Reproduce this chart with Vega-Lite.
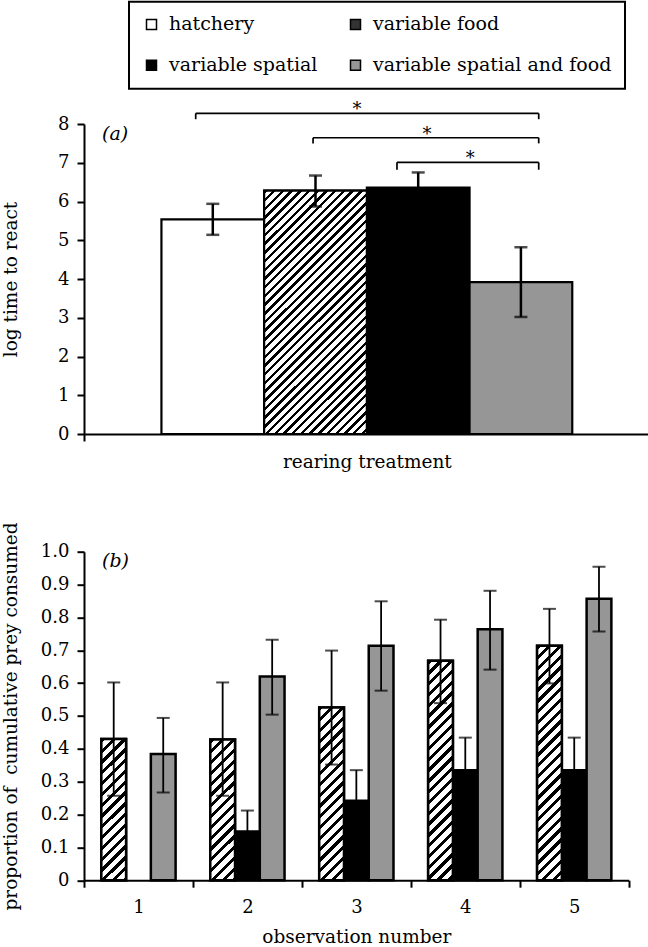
{
"$schema": "https://vega.github.io/schema/vega-lite/v6.json",
"padding": 0,
"bounds": "flush",
"spacing": 117.7,
"params": [
{"name": "ls", "value": [{"offset": 0, "color": "#000"}, {"offset": 0.32, "color": "#000"}, {"offset": 0.32, "color": "#fff"}, {"offset": 0.68, "color": "#fff"}, {"offset": 0.68, "color": "#000"}, {"offset": 1, "color": "#000"}]},
{"name": "hs", "value": [
{"offset":0,"color":"#000"},{"offset":0.01,"color":"#000"},{"offset":0.01,"color":"#fff"},{"offset":0.025,"color":"#fff"},
{"offset":0.025,"color":"#000"},{"offset":0.035,"color":"#000"},{"offset":0.035,"color":"#fff"},{"offset":0.05,"color":"#fff"},
{"offset":0.05,"color":"#000"},{"offset":0.06,"color":"#000"},{"offset":0.06,"color":"#fff"},{"offset":0.075,"color":"#fff"},
{"offset":0.075,"color":"#000"},{"offset":0.085,"color":"#000"},{"offset":0.085,"color":"#fff"},{"offset":0.1,"color":"#fff"},
{"offset":0.1,"color":"#000"},{"offset":0.11,"color":"#000"},{"offset":0.11,"color":"#fff"},{"offset":0.125,"color":"#fff"},
{"offset":0.125,"color":"#000"},{"offset":0.135,"color":"#000"},{"offset":0.135,"color":"#fff"},{"offset":0.15,"color":"#fff"},
{"offset":0.15,"color":"#000"},{"offset":0.16,"color":"#000"},{"offset":0.16,"color":"#fff"},{"offset":0.175,"color":"#fff"},
{"offset":0.175,"color":"#000"},{"offset":0.185,"color":"#000"},{"offset":0.185,"color":"#fff"},{"offset":0.2,"color":"#fff"},
{"offset":0.2,"color":"#000"},{"offset":0.21,"color":"#000"},{"offset":0.21,"color":"#fff"},{"offset":0.225,"color":"#fff"},
{"offset":0.225,"color":"#000"},{"offset":0.235,"color":"#000"},{"offset":0.235,"color":"#fff"},{"offset":0.25,"color":"#fff"},
{"offset":0.25,"color":"#000"},{"offset":0.26,"color":"#000"},{"offset":0.26,"color":"#fff"},{"offset":0.275,"color":"#fff"},
{"offset":0.275,"color":"#000"},{"offset":0.285,"color":"#000"},{"offset":0.285,"color":"#fff"},{"offset":0.3,"color":"#fff"},
{"offset":0.3,"color":"#000"},{"offset":0.31,"color":"#000"},{"offset":0.31,"color":"#fff"},{"offset":0.325,"color":"#fff"},
{"offset":0.325,"color":"#000"},{"offset":0.335,"color":"#000"},{"offset":0.335,"color":"#fff"},{"offset":0.35,"color":"#fff"},
{"offset":0.35,"color":"#000"},{"offset":0.36,"color":"#000"},{"offset":0.36,"color":"#fff"},{"offset":0.375,"color":"#fff"},
{"offset":0.375,"color":"#000"},{"offset":0.385,"color":"#000"},{"offset":0.385,"color":"#fff"},{"offset":0.4,"color":"#fff"},
{"offset":0.4,"color":"#000"},{"offset":0.41,"color":"#000"},{"offset":0.41,"color":"#fff"},{"offset":0.425,"color":"#fff"},
{"offset":0.425,"color":"#000"},{"offset":0.435,"color":"#000"},{"offset":0.435,"color":"#fff"},{"offset":0.45,"color":"#fff"},
{"offset":0.45,"color":"#000"},{"offset":0.46,"color":"#000"},{"offset":0.46,"color":"#fff"},{"offset":0.475,"color":"#fff"},
{"offset":0.475,"color":"#000"},{"offset":0.485,"color":"#000"},{"offset":0.485,"color":"#fff"},{"offset":0.5,"color":"#fff"},
{"offset":0.5,"color":"#000"},{"offset":0.51,"color":"#000"},{"offset":0.51,"color":"#fff"},{"offset":0.525,"color":"#fff"},
{"offset":0.525,"color":"#000"},{"offset":0.535,"color":"#000"},{"offset":0.535,"color":"#fff"},{"offset":0.55,"color":"#fff"},
{"offset":0.55,"color":"#000"},{"offset":0.56,"color":"#000"},{"offset":0.56,"color":"#fff"},{"offset":0.575,"color":"#fff"},
{"offset":0.575,"color":"#000"},{"offset":0.585,"color":"#000"},{"offset":0.585,"color":"#fff"},{"offset":0.6,"color":"#fff"},
{"offset":0.6,"color":"#000"},{"offset":0.61,"color":"#000"},{"offset":0.61,"color":"#fff"},{"offset":0.625,"color":"#fff"},
{"offset":0.625,"color":"#000"},{"offset":0.635,"color":"#000"},{"offset":0.635,"color":"#fff"},{"offset":0.65,"color":"#fff"},
{"offset":0.65,"color":"#000"},{"offset":0.66,"color":"#000"},{"offset":0.66,"color":"#fff"},{"offset":0.675,"color":"#fff"},
{"offset":0.675,"color":"#000"},{"offset":0.685,"color":"#000"},{"offset":0.685,"color":"#fff"},{"offset":0.7,"color":"#fff"},
{"offset":0.7,"color":"#000"},{"offset":0.71,"color":"#000"},{"offset":0.71,"color":"#fff"},{"offset":0.725,"color":"#fff"},
{"offset":0.725,"color":"#000"},{"offset":0.735,"color":"#000"},{"offset":0.735,"color":"#fff"},{"offset":0.75,"color":"#fff"},
{"offset":0.75,"color":"#000"},{"offset":0.76,"color":"#000"},{"offset":0.76,"color":"#fff"},{"offset":0.775,"color":"#fff"},
{"offset":0.775,"color":"#000"},{"offset":0.785,"color":"#000"},{"offset":0.785,"color":"#fff"},{"offset":0.8,"color":"#fff"},
{"offset":0.8,"color":"#000"},{"offset":0.81,"color":"#000"},{"offset":0.81,"color":"#fff"},{"offset":0.825,"color":"#fff"},
{"offset":0.825,"color":"#000"},{"offset":0.835,"color":"#000"},{"offset":0.835,"color":"#fff"},{"offset":0.85,"color":"#fff"},
{"offset":0.85,"color":"#000"},{"offset":0.86,"color":"#000"},{"offset":0.86,"color":"#fff"},{"offset":0.875,"color":"#fff"},
{"offset":0.875,"color":"#000"},{"offset":0.885,"color":"#000"},{"offset":0.885,"color":"#fff"},{"offset":0.9,"color":"#fff"},
{"offset":0.9,"color":"#000"},{"offset":0.91,"color":"#000"},{"offset":0.91,"color":"#fff"},{"offset":0.925,"color":"#fff"},
{"offset":0.925,"color":"#000"},{"offset":0.935,"color":"#000"},{"offset":0.935,"color":"#fff"},{"offset":0.95,"color":"#fff"},
{"offset":0.95,"color":"#000"},{"offset":0.96,"color":"#000"},{"offset":0.96,"color":"#fff"},{"offset":0.975,"color":"#fff"},
{"offset":0.975,"color":"#000"},{"offset":0.985,"color":"#000"},{"offset":0.985,"color":"#fff"},{"offset":1,"color":"#fff"}
]}],
"config": {
 "font": "DejaVu Serif",
 "view": {"stroke": null},
 "axis": {"domainColor": "black", "domainWidth": 2, "tickColor": "black", "tickWidth": 2, "tickSize": 7, "labelColor": "black", "labelFont": "DejaVu Serif", "labelFontSize": 18, "labelOverlap": false, "titleColor": "black", "titleFont": "DejaVu Serif", "titleFontSize": 18.5, "titleFontWeight": "normal", "grid": false},
 "legend": {"padding": 13, "rowPadding": 21, "columnPadding": 28, "gridAlign": "each", "strokeColor": "black", "strokeWidth": 2, "fillColor": "white", "symbolType": "square", "symbolSize": 100, "symbolStrokeColor": "black", "symbolStrokeWidth": 1.5, "labelFont": "DejaVu Serif", "labelFontSize": 19, "labelColor": "black", "labelLimit": 0, "labelOffset": 8, "symbolOpacity": 1},
 "text": {"font": "DejaVu Serif", "color": "black"}
},
"resolve": {"scale": {"x": "independent", "y": "independent", "xOffset": "independent", "fill": "shared"}, "axis": {"x": "independent", "y": "independent"}, "legend": {"fill": "shared"}},
"vconcat": [
 {
  "width": 565.7, "height": 310,
  "layer": [
   {
    "data": {"values": [
     {"treatment": "rearing treatment", "group": "hatchery", "value": 5.54, "lo": 5.14, "hi": 5.94},
     {"treatment": "rearing treatment", "group": "variable food", "value": 6.28, "lo": 5.87, "hi": 6.67},
     {"treatment": "rearing treatment", "group": "variable spatial", "value": 6.36, "lo": 5.97, "hi": 6.75},
     {"treatment": "rearing treatment", "group": "variable spatial and food", "value": 3.92, "lo": 3.02, "hi": 4.82}
    ]},
    "layer": [
     {"mark": {"type": "bar", "stroke": "black", "strokeWidth": 2.2},
      "encoding": {
       "x": {"field": "treatment", "type": "nominal", "title": "rearing treatment", "scale": {"type": "band", "paddingInner": 0, "paddingOuter": 0}, "axis": {"labels": false, "tickBand": "extent", "titleY": 33.7, "titleBaseline": "alphabetic"}},
       "xOffset": {"field": "group", "type": "nominal", "scale": {"domain": ["hatchery", "variable food", "variable spatial", "variable spatial and food"], "paddingInner": 0, "paddingOuter": 0.754}},
       "y": {"field": "value", "type": "quantitative", "title": "log time to react", "scale": {"domain": [0, 8]}, "axis": {"values": [0, 1, 2, 3, 4, 5, 6, 7, 8], "titleX": -74, "titleY": 155, "titleBaseline": "middle", "labelPadding": 8}},
       "fill": {"field": "group", "type": "nominal",
        "scale": {"domain": ["hatchery", "variable food", "variable spatial", "variable spatial and food"], "range": ["white", "#333333", "black", "#969696"]},
        "legend": {"title": null, "orient": "none", "legendX": 45, "legendY": -122.3, "direction": "horizontal", "columns": 2,
          "encode": {"symbols": {"update": {
            "fill": {"signal": "datum.value === 'variable food' ? {gradient: 'linear', x1: 0, y1: 0, x2: 1, y2: 1, stops: ls} : scale('fill', datum.value)"},
            "stroke": {"value": "black"}, "strokeWidth": {"value": 1.5}, "opacity": {"value": 1}}}}}}
      }},
     {"transform": [{"filter": "datum.group === 'variable food'"}],
      "mark": {"type": "bar", "stroke": "black", "strokeWidth": 2.2, "fill": {"expr": "{gradient: 'linear', x1: 0, y1: 0, x2: 0.512, y2: 1.214, stops: hs}"}},
      "encoding": {
       "x": {"field": "treatment", "type": "nominal", "title": "rearing treatment", "axis": {"labels": false, "tickBand": "extent", "titleY": 33.7, "titleBaseline": "alphabetic"}},
       "xOffset": {"field": "group", "type": "nominal"},
       "y": {"field": "value", "type": "quantitative", "title": "log time to react", "axis": {"values": [0, 1, 2, 3, 4, 5, 6, 7, 8], "titleX": -74, "titleY": 155, "titleBaseline": "middle", "labelPadding": 8}}
      }},
     {"mark": {"type": "rule", "color": "black", "strokeWidth": 2.5},
      "encoding": {
       "x": {"field": "treatment", "type": "nominal", "title": "rearing treatment", "axis": {"labels": false, "tickBand": "extent", "titleY": 33.7, "titleBaseline": "alphabetic"}},
       "xOffset": {"field": "group", "type": "nominal"},
       "y": {"field": "lo", "type": "quantitative", "title": "log time to react", "axis": {"values": [0, 1, 2, 3, 4, 5, 6, 7, 8], "titleX": -74, "titleY": 155, "titleBaseline": "middle", "labelPadding": 8}},
       "y2": {"field": "hi"}
      }},
     {"mark": {"type": "tick", "color": "black", "thickness": 2.5, "size": 13},
      "encoding": {
       "x": {"field": "treatment", "type": "nominal", "title": "rearing treatment", "axis": {"labels": false, "tickBand": "extent", "titleY": 33.7, "titleBaseline": "alphabetic"}},
       "xOffset": {"field": "group", "type": "nominal"},
       "y": {"field": "hi", "type": "quantitative", "title": "log time to react", "axis": {"values": [0, 1, 2, 3, 4, 5, 6, 7, 8], "titleX": -74, "titleY": 155, "titleBaseline": "middle", "labelPadding": 8}}
      }},
     {"mark": {"type": "tick", "color": "black", "thickness": 2.5, "size": 13},
      "encoding": {
       "x": {"field": "treatment", "type": "nominal", "title": "rearing treatment", "axis": {"labels": false, "tickBand": "extent", "titleY": 33.7, "titleBaseline": "alphabetic"}},
       "xOffset": {"field": "group", "type": "nominal"},
       "y": {"field": "lo", "type": "quantitative", "title": "log time to react", "axis": {"values": [0, 1, 2, 3, 4, 5, 6, 7, 8], "titleX": -74, "titleY": 155, "titleBaseline": "middle", "labelPadding": 8}}
      }}
    ]
   },
   {
    "layer": [
     {
      "data": {"values": [
       {"x1": 1.086, "x2": 4.421, "y": 8.274, "yt": 8.124, "mid": 2.654},
       {"x1": 2.227, "x2": 4.421, "y": 7.645, "yt": 7.5, "mid": 3.335},
       {"x1": 3.043, "x2": 4.421, "y": 7.01, "yt": 6.82, "mid": 3.756}
      ]},
      "layer": [
       {"mark": {"type": "rule", "color": "black", "strokeWidth": 1.7},
        "encoding": {"x": {"field": "x1", "type": "quantitative", "scale": {"domain": [0, 5.5]}, "axis": null}, "x2": {"field": "x2"}, "y": {"field": "y", "type": "quantitative", "title": "log time to react", "axis": {"values": [0, 1, 2, 3, 4, 5, 6, 7, 8], "titleX": -74, "titleY": 155, "titleBaseline": "middle", "labelPadding": 8}}}},
       {"mark": {"type": "rule", "color": "black", "strokeWidth": 1.7},
        "encoding": {"x": {"field": "x1", "type": "quantitative", "axis": null}, "y": {"field": "y", "type": "quantitative", "title": "log time to react", "axis": {"values": [0, 1, 2, 3, 4, 5, 6, 7, 8], "titleX": -74, "titleY": 155, "titleBaseline": "middle", "labelPadding": 8}}, "y2": {"field": "yt"}}},
       {"mark": {"type": "rule", "color": "black", "strokeWidth": 1.7},
        "encoding": {"x": {"field": "x2", "type": "quantitative", "axis": null}, "y": {"field": "y", "type": "quantitative", "title": "log time to react", "axis": {"values": [0, 1, 2, 3, 4, 5, 6, 7, 8], "titleX": -74, "titleY": 155, "titleBaseline": "middle", "labelPadding": 8}}, "y2": {"field": "yt"}}},
       {"mark": {"type": "text", "fontSize": 18, "baseline": "alphabetic", "dy": 2, "text": "*"},
        "encoding": {"x": {"field": "mid", "type": "quantitative", "axis": null}, "y": {"field": "y", "type": "quantitative", "title": "log time to react", "axis": {"values": [0, 1, 2, 3, 4, 5, 6, 7, 8], "titleX": -74, "titleY": 155, "titleBaseline": "middle", "labelPadding": 8}}}}
      ]
     },
     {
      "data": {"values": [{"label": "(a)"}]},
      "mark": {"type": "text", "align": "left", "baseline": "middle", "fontStyle": "italic", "fontSize": 19},
      "encoding": {"x": {"datum": 0.175, "type": "quantitative", "axis": null}, "y": {"datum": 7.75, "type": "quantitative", "title": "log time to react", "axis": {"values": [0, 1, 2, 3, 4, 5, 6, 7, 8], "titleX": -74, "titleY": 155, "titleBaseline": "middle", "labelPadding": 8}}, "text": {"field": "label"}}
     }
    ]
   }
  ],
  "resolve": {"scale": {"x": "independent"}}
 },
 {
  "width": 544.7, "height": 328.5,
  "layer": [
   {
    "data": {"values": [
     {"obs": 1, "group": "variable food", "value": 0.43, "lo": 0.257, "hi": 0.602},
     {"obs": 1, "group": "variable spatial and food", "value": 0.384, "lo": 0.267, "hi": 0.494},
     {"obs": 2, "group": "variable food", "value": 0.428, "lo": 0.257, "hi": 0.602},
     {"obs": 2, "group": "variable spatial", "value": 0.148, "lo": 0.085, "hi": 0.212},
     {"obs": 2, "group": "variable spatial and food", "value": 0.62, "lo": 0.504, "hi": 0.732},
     {"obs": 3, "group": "variable food", "value": 0.526, "lo": 0.352, "hi": 0.699},
     {"obs": 3, "group": "variable spatial", "value": 0.242, "lo": 0.149, "hi": 0.335},
     {"obs": 3, "group": "variable spatial and food", "value": 0.714, "lo": 0.577, "hi": 0.849},
     {"obs": 4, "group": "variable food", "value": 0.668, "lo": 0.539, "hi": 0.793},
     {"obs": 4, "group": "variable spatial", "value": 0.335, "lo": 0.236, "hi": 0.434},
     {"obs": 4, "group": "variable spatial and food", "value": 0.764, "lo": 0.641, "hi": 0.881},
     {"obs": 5, "group": "variable food", "value": 0.714, "lo": 0.599, "hi": 0.826},
     {"obs": 5, "group": "variable spatial", "value": 0.335, "lo": 0.236, "hi": 0.434},
     {"obs": 5, "group": "variable spatial and food", "value": 0.857, "lo": 0.757, "hi": 0.954}
    ]},
    "layer": [
     {"mark": {"type": "bar", "stroke": "black", "strokeWidth": 2.5},
      "encoding": {
       "x": {"field": "obs", "type": "ordinal", "title": "observation number", "scale": {"type": "band", "paddingInner": 0, "paddingOuter": 0}, "axis": {"labelAngle": 0, "tickBand": "extent", "labelPadding": 11, "titleY": 62.5, "titleBaseline": "alphabetic"}},
       "xOffset": {"field": "group", "type": "nominal", "scale": {"domain": ["variable food", "variable spatial", "variable spatial and food"], "paddingInner": 0, "paddingOuter": 0.7}},
       "y": {"field": "value", "type": "quantitative", "title": "proportion of\u00a0 cumulative prey consumed", "scale": {"domain": [0, 1]}, "axis": {"values": [0, 0.1, 0.2, 0.3, 0.4, 0.5, 0.6, 0.7, 0.8, 0.9, 1], "labelExpr": "datum.value === 0 ? '0' : format(datum.value, '.1f')", "titleX": -74, "titleY": 164.25, "titleBaseline": "middle", "labelPadding": 8}},
       "fill": {"field": "group", "type": "nominal", "legend": null}
      }},
     {"transform": [{"filter": "datum.group === 'variable food'"}],
      "mark": {"type": "bar", "stroke": "black", "strokeWidth": 2.5, "fill": {"expr": "{gradient: 'linear', x1: 0, y1: 0, x2: 24.75*432/(612.6+pow(328.5*datum.value,2)), y2: 328.5*datum.value*432/(612.6+pow(328.5*datum.value,2)), stops: hs}"}},
      "encoding": {
       "x": {"field": "obs", "type": "ordinal", "title": "observation number", "axis": {"labelAngle": 0, "tickBand": "extent", "labelPadding": 11, "titleY": 62.5, "titleBaseline": "alphabetic"}},
       "xOffset": {"field": "group", "type": "nominal"},
       "y": {"field": "value", "type": "quantitative", "title": "proportion of\u00a0 cumulative prey consumed", "axis": {"values": [0, 0.1, 0.2, 0.3, 0.4, 0.5, 0.6, 0.7, 0.8, 0.9, 1], "labelExpr": "datum.value === 0 ? '0' : format(datum.value, '.1f')", "titleX": -74, "titleY": 164.25, "titleBaseline": "middle", "labelPadding": 8}}
      }},
     {"mark": {"type": "rule", "color": "black", "strokeWidth": 1.8},
      "encoding": {
       "x": {"field": "obs", "type": "ordinal", "title": "observation number", "axis": {"labelAngle": 0, "tickBand": "extent", "labelPadding": 11, "titleY": 62.5, "titleBaseline": "alphabetic"}},
       "xOffset": {"field": "group", "type": "nominal"},
       "y": {"field": "lo", "type": "quantitative", "title": "proportion of\u00a0 cumulative prey consumed", "axis": {"values": [0, 0.1, 0.2, 0.3, 0.4, 0.5, 0.6, 0.7, 0.8, 0.9, 1], "labelExpr": "datum.value === 0 ? '0' : format(datum.value, '.1f')", "titleX": -74, "titleY": 164.25, "titleBaseline": "middle", "labelPadding": 8}},
       "y2": {"field": "hi"}
      }},
     {"mark": {"type": "tick", "color": "black", "thickness": 2, "size": 13},
      "encoding": {
       "x": {"field": "obs", "type": "ordinal", "title": "observation number", "axis": {"labelAngle": 0, "tickBand": "extent", "labelPadding": 11, "titleY": 62.5, "titleBaseline": "alphabetic"}},
       "xOffset": {"field": "group", "type": "nominal"},
       "y": {"field": "hi", "type": "quantitative", "title": "proportion of\u00a0 cumulative prey consumed", "axis": {"values": [0, 0.1, 0.2, 0.3, 0.4, 0.5, 0.6, 0.7, 0.8, 0.9, 1], "labelExpr": "datum.value === 0 ? '0' : format(datum.value, '.1f')", "titleX": -74, "titleY": 164.25, "titleBaseline": "middle", "labelPadding": 8}}
      }},
     {"mark": {"type": "tick", "color": "black", "thickness": 2, "size": 13},
      "encoding": {
       "x": {"field": "obs", "type": "ordinal", "title": "observation number", "axis": {"labelAngle": 0, "tickBand": "extent", "labelPadding": 11, "titleY": 62.5, "titleBaseline": "alphabetic"}},
       "xOffset": {"field": "group", "type": "nominal"},
       "y": {"field": "lo", "type": "quantitative", "title": "proportion of\u00a0 cumulative prey consumed", "axis": {"values": [0, 0.1, 0.2, 0.3, 0.4, 0.5, 0.6, 0.7, 0.8, 0.9, 1], "labelExpr": "datum.value === 0 ? '0' : format(datum.value, '.1f')", "titleX": -74, "titleY": 164.25, "titleBaseline": "middle", "labelPadding": 8}}
      }}
    ]
   },
   {
    "data": {"values": [{"label": "(b)"}]},
    "mark": {"type": "text", "align": "left", "baseline": "middle", "fontStyle": "italic", "fontSize": 19},
    "encoding": {"x": {"datum": 1, "type": "ordinal", "bandPosition": 0.165, "title": "observation number", "axis": {"labelAngle": 0, "tickBand": "extent", "labelPadding": 11, "titleY": 62.5, "titleBaseline": "alphabetic"}}, "y": {"datum": 0.973, "type": "quantitative", "title": "proportion of\u00a0 cumulative prey consumed", "axis": {"values": [0, 0.1, 0.2, 0.3, 0.4, 0.5, 0.6, 0.7, 0.8, 0.9, 1], "labelExpr": "datum.value === 0 ? '0' : format(datum.value, '.1f')", "titleX": -74, "titleY": 164.25, "titleBaseline": "middle", "labelPadding": 8}}, "text": {"field": "label"}}
   }
  ]
 }
]
}
